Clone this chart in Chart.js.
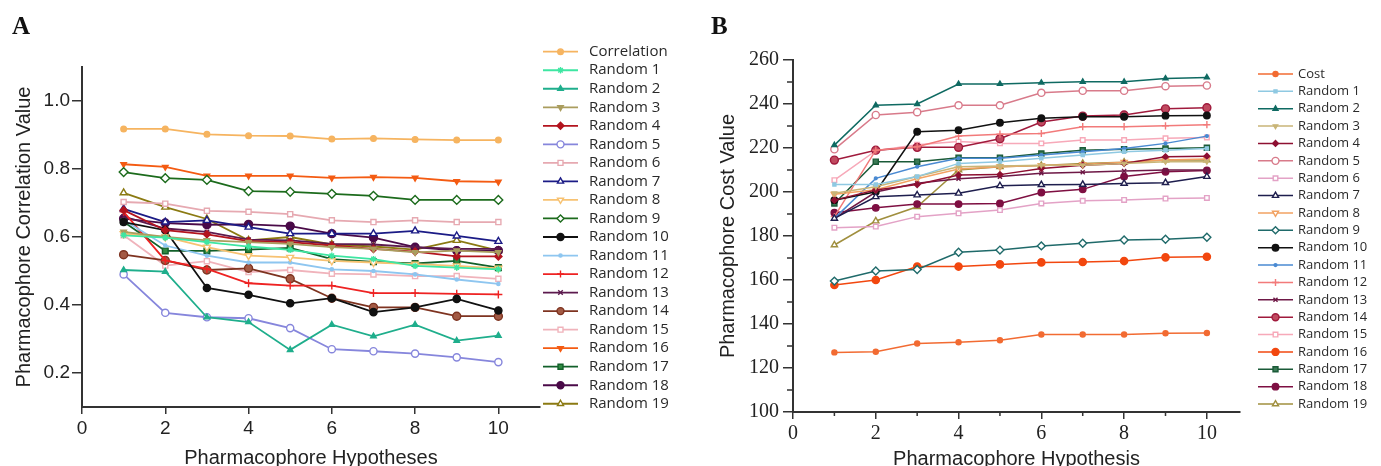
<!DOCTYPE html>
<html>
<head>
<meta charset="utf-8">
<script src="https://cdn.jsdelivr.net/npm/chart.js@4.4.0/dist/chart.umd.min.js"></script>
<style>
  html, body { margin: 0; padding: 0; background: #fff; }
  #wrap { position: relative; width: 1381px; height: 466px; overflow: hidden; }
  canvas { position: absolute; top: 0; }
  #chartA { left: 0; }
  #chartB { left: 690px; }
  .panel-tag { position: absolute; font: bold 25px "Liberation Serif", "Times New Roman", serif; color: #111; }
</style>
</head>
<body>
<div id="wrap">
  <canvas id="chartA" width="690" height="466"></canvas>
  <canvas id="chartB" width="691" height="466"></canvas>
  <div class="panel-tag" style="left:12px;top:12px">A</div>
  <div class="panel-tag" style="left:711px;top:12px">B</div>
</div>
<script>
// ---- data ----
const hypotheses = [1, 2, 3, 4, 5, 6, 7, 8, 9, 10];
const randomNames = ['Random 1', 'Random 2', 'Random 3', 'Random 4', 'Random 5', 'Random 6', 'Random 7',
    'Random 8', 'Random 9', 'Random 10', 'Random 11', 'Random 12', 'Random 13', 'Random 14', 'Random 15',
    'Random 16', 'Random 17', 'Random 18', 'Random 19'];

// Panel A - correlation
const corrXTicks = [0, 2, 4, 6, 8, 10];
const corrYTicks = [0.2, 0.4, 0.6, 0.8, 1.0];
const corrLabels = ['Correlation', ...randomNames];
const corrMain = [0.918, 0.918, 0.902, 0.898, 0.897, 0.888, 0.890, 0.887, 0.885, 0.885];
const corrR1  = [0.605, 0.598, 0.585, 0.572, 0.562, 0.545, 0.535, 0.515, 0.510, 0.505];
const corrR2  = [0.503, 0.498, 0.364, 0.350, 0.268, 0.342, 0.308, 0.342, 0.295, 0.310];
const corrR3  = [0.615, 0.600, 0.590, 0.585, 0.580, 0.570, 0.565, 0.555, 0.560, 0.555];
const corrR4  = [0.679, 0.620, 0.608, 0.588, 0.585, 0.575, 0.565, 0.557, 0.543, 0.543];
const corrR5  = [0.490, 0.377, 0.364, 0.361, 0.332, 0.270, 0.264, 0.257, 0.246, 0.232];
const corrR6  = [0.703, 0.698, 0.677, 0.674, 0.667, 0.649, 0.644, 0.649, 0.644, 0.644];
const corrR7  = [0.683, 0.644, 0.649, 0.629, 0.610, 0.610, 0.610, 0.618, 0.603, 0.587];
const corrR8  = [0.610, 0.600, 0.570, 0.545, 0.540, 0.530, 0.525, 0.520, 0.515, 0.508];
const corrR9  = [0.791, 0.773, 0.768, 0.735, 0.733, 0.727, 0.721, 0.709, 0.709, 0.709];
const corrR10 = [0.644, 0.620, 0.450, 0.430, 0.405, 0.420, 0.379, 0.393, 0.418, 0.384];
const corrR11 = [0.650, 0.575, 0.545, 0.525, 0.525, 0.505, 0.500, 0.490, 0.475, 0.462];
const corrR12 = [0.674, 0.531, 0.506, 0.464, 0.457, 0.457, 0.435, 0.435, 0.433, 0.431];
const corrR13 = [0.660, 0.625, 0.615, 0.592, 0.590, 0.580, 0.578, 0.570, 0.565, 0.565];
const corrR14 = [0.548, 0.531, 0.503, 0.508, 0.477, 0.420, 0.393, 0.393, 0.367, 0.367];
const corrR15 = [0.605, 0.516, 0.529, 0.497, 0.503, 0.492, 0.490, 0.485, 0.485, 0.477];
const corrR16 = [0.814, 0.806, 0.780, 0.780, 0.780, 0.774, 0.776, 0.774, 0.764, 0.762];
const corrR17 = [0.645, 0.559, 0.559, 0.563, 0.568, 0.535, 0.527, 0.522, 0.530, 0.510];
const corrR18 = [0.654, 0.641, 0.636, 0.637, 0.632, 0.610, 0.598, 0.570, 0.560, 0.560];
const corrR19 = [0.730, 0.688, 0.653, 0.590, 0.600, 0.578, 0.572, 0.563, 0.590, 0.560];

// Panel B - cost
const costXTicks = [0, 2, 4, 6, 8, 10];
const costXMinor = [1, 3, 5, 7, 9];
const costYTicks = [100, 120, 140, 160, 180, 200, 220, 240, 260];
const costYMinor = [110, 130, 150, 170, 190, 210, 230, 250];
const costLabels = ['Cost', ...randomNames];
const costMain = [127.1, 127.4, 131.1, 131.7, 132.6, 135.2, 135.2, 135.2, 135.8, 135.9];
const costR1  = [203.4, 203.4, 207.0, 213.0, 213.8, 215.3, 216.8, 218.3, 219.0, 219.8];
const costR2  = [221.3, 239.4, 240.0, 249.1, 249.1, 249.7, 250.1, 250.1, 251.6, 252.1];
const costR3  = [199.4, 202.4, 207.0, 211.5, 211.8, 212.2, 212.2, 213.0, 213.8, 213.8];
const costR4  = [196.3, 200.9, 203.4, 207.7, 207.9, 210.7, 212.2, 213.0, 216.0, 216.3];
const costR5  = [219.4, 235.0, 236.3, 239.4, 239.4, 245.1, 246.0, 246.0, 248.1, 248.4];
const costR6  = [183.8, 184.3, 188.8, 190.3, 191.8, 194.8, 196.0, 196.4, 197.0, 197.3];
const costR7  = [188.0, 197.8, 198.6, 199.4, 202.8, 203.3, 203.4, 203.9, 204.2, 207.0];
const costR8  = [199.0, 201.0, 206.0, 210.5, 211.5, 212.0, 212.5, 213.5, 214.5, 215.0];
const costR9  = [159.5, 164.1, 164.8, 172.6, 173.6, 175.5, 176.7, 178.2, 178.5, 179.4];
const costR10 = [196.3, 200.1, 227.4, 228.1, 231.5, 233.5, 234.2, 234.2, 234.7, 234.8];
const costR11 = [188.0, 206.2, 211.5, 215.3, 215.3, 216.8, 218.3, 219.8, 222.1, 225.4];
const costR12 = [188.8, 219.0, 220.6, 225.4, 226.3, 226.6, 229.7, 229.7, 230.1, 230.6];
const costR13 = [188.0, 200.0, 204.0, 206.0, 207.0, 208.5, 209.0, 209.5, 210.0, 210.0];
const costR14 = [214.5, 219.0, 220.3, 220.3, 224.2, 231.8, 234.5, 235.0, 237.8, 238.3];
const costR15 = [205.4, 218.8, 221.5, 222.9, 222.1, 222.1, 223.6, 223.6, 224.4, 224.8];
const costR16 = [157.7, 160.0, 166.1, 166.1, 167.1, 168.0, 168.2, 168.6, 170.3, 170.6];
const costR17 = [194.8, 213.8, 213.8, 215.6, 215.6, 217.5, 219.0, 219.4, 219.8, 220.1];
const costR18 = [190.6, 192.8, 194.5, 194.5, 194.8, 199.8, 201.2, 207.0, 209.2, 209.8];
const costR19 = [175.9, 186.8, 193.3, 210.0, 211.5, 212.0, 213.0, 213.5, 214.5, 214.5];

const corrSeries = [corrMain, corrR1, corrR2, corrR3, corrR4, corrR5, corrR6, corrR7, corrR8, corrR9,
    corrR10, corrR11, corrR12, corrR13, corrR14, corrR15, corrR16, corrR17, corrR18, corrR19];
const costSeries = [costMain, costR1, costR2, costR3, costR4, costR5, costR6, costR7, costR8, costR9,
    costR10, costR11, costR12, costR13, costR14, costR15, costR16, costR17, costR18, costR19];

// ---- styles ----
const corrStyles = [
    { color: '#f6b460', marker: 'circle', r: 3.5 },
    { color: '#3ee6a2', marker: 'star', r: 4 },
    { color: '#1fae8c', marker: 'triangle', r: 4 },
    { color: '#aa9d5e', marker: 'triangle', rot: 180, r: 4 },
    { color: '#b3141e', marker: 'rectRot', r: 4.5 },
    { color: '#8686dc', marker: 'circle', hollow: true, r: 4.5 },
    { color: '#e6a9b1', marker: 'rect', hollow: true, r: 4.5 },
    { color: '#1b1b86', marker: 'triangle', hollow: true, r: 5 },
    { color: '#f7c272', marker: 'triangle', rot: 180, hollow: true, r: 5 },
    { color: '#1c6b1c', marker: 'rectRot', hollow: true, r: 5.5 },
    { color: '#111111', marker: 'circle', r: 4.5 },
    { color: '#8ec6f0', marker: 'circle', r: 2 },
    { color: '#ee2222', marker: 'cross', r: 5 },
    { color: '#5c1a4e', marker: 'crossRot', r: 4 },
    { color: '#7e3320', face: '#a35a44', marker: 'circle', r: 5 },
    { color: '#f0b3bb', marker: 'rect', hollow: true, r: 4.5 },
    { color: '#f45b12', marker: 'triangle', rot: 180, r: 4 },
    { color: '#12602a', face: '#2e8a40', marker: 'rect', r: 5 },
    { color: '#4a0a48', marker: 'circle', r: 5 },
    { color: '#8b7a12', marker: 'triangle', hollow: true, r: 5 }
];
const costStyles = [
    { color: '#f26b32', marker: 'circle', r: 3.5 },
    { color: '#8fc9e2', marker: 'rect', r: 3 },
    { color: '#0f6a62', marker: 'triangle', r: 4 },
    { color: '#c9b577', marker: 'triangle', rot: 180, r: 3.5 },
    { color: '#8e1032', marker: 'rectRot', r: 4 },
    { color: '#d87a8a', marker: 'circle', hollow: true, r: 5 },
    { color: '#e3a2c6', marker: 'rect', hollow: true, r: 4.5 },
    { color: '#1e1e4e', marker: 'triangle', hollow: true, r: 5 },
    { color: '#f2a262', marker: 'triangle', rot: 180, hollow: true, r: 5 },
    { color: '#1f6a6a', marker: 'rectRot', hollow: true, r: 5.5 },
    { color: '#111111', marker: 'circle', r: 4.5 },
    { color: '#4a8ad2', marker: 'circle', r: 2 },
    { color: '#f27a7a', marker: 'cross', r: 5 },
    { color: '#6e1846', marker: 'crossRot', r: 4 },
    { color: '#a01a3c', face: '#c04a60', marker: 'circle', r: 5.5 },
    { color: '#f7a9b9', marker: 'rect', hollow: true, r: 4.5 },
    { color: '#f2470f', marker: 'circle', r: 5 },
    { color: '#1a5a38', face: '#3a7a55', marker: 'rect', r: 5 },
    { color: '#7e0f42', marker: 'circle', r: 4.5 },
    { color: '#a08f3e', marker: 'triangle', hollow: true, r: 5 }
];

const SANS = '"Liberation Sans", Arial, sans-serif';
const SERIF = '"Liberation Serif", "Times New Roman", serif';
const AXIS = '#333';

function makeDatasets(labels, series, styles, lineWidth, markerScale) {
    return series.map((vals, i) => {
        const s = styles[i];
        return {
            label: labels[i],
            data: vals.map((v, j) => ({ x: hypotheses[j], y: v })),
            borderColor: s.color,
            borderWidth: lineWidth,
            pointStyle: s.marker,
            pointRotation: s.rot || 0,
            pointRadius: s.r * markerScale,
            pointBorderColor: s.color,
            pointBackgroundColor: s.hollow ? '#ffffff' : (s.face || s.color),
            pointBorderWidth: 1.4,
            tension: 0
        };
    });
}

// legend: short line + marker + label, one row per dataset
const lineLegend = {
    id: 'lineLegend',
    afterDraw(chart, args, opts) {
        const ctx = chart.ctx;
        ctx.save();
        ctx.font = opts.font;
        ctx.textBaseline = 'middle';
        chart.data.datasets.forEach((ds, i) => {
            const y = opts.top + i * opts.spacing;
            ctx.strokeStyle = ds.borderColor;
            ctx.lineWidth = ds.borderWidth;
            ctx.beginPath();
            ctx.moveTo(opts.x, y);
            ctx.lineTo(opts.x + opts.len, y);
            ctx.stroke();
            ctx.fillStyle = ds.pointBackgroundColor;
            ctx.strokeStyle = ds.pointBorderColor;
            ctx.lineWidth = ds.pointBorderWidth;
            Chart.helpers.drawPoint(ctx, {
                pointStyle: ds.pointStyle,
                rotation: ds.pointRotation,
                radius: Math.min(ds.pointRadius, 3.5),
                borderWidth: ds.pointBorderWidth
            }, opts.x + opts.len / 2, y);
            ctx.fillStyle = '#2a2a2a';
            ctx.fillText(ds.label, opts.textX, y);
        });
        ctx.restore();
    }
};

// short unlabeled ticks between the labelled ones
const minorTicks = {
    id: 'minorTicks',
    afterDraw(chart, args, opts) {
        if (!opts.y && !opts.x) return;
        const ctx = chart.ctx;
        const { x: xs, y: ys } = chart.scales;
        ctx.save();
        ctx.strokeStyle = AXIS;
        ctx.lineWidth = 1.5;
        ctx.beginPath();
        (opts.y || []).forEach(v => {
            const py = ys.getPixelForValue(v);
            ctx.moveTo(chart.chartArea.left - 6, py);
            ctx.lineTo(chart.chartArea.left, py);
        });
        (opts.x || []).forEach(v => {
            const px = xs.getPixelForValue(v);
            ctx.moveTo(px, chart.chartArea.bottom);
            ctx.lineTo(px, chart.chartArea.bottom + 4);
        });
        ctx.stroke();
        ctx.restore();
    }
};

function axis(cfg) {
    return {
        type: 'linear',
        min: cfg.min,
        max: cfg.max,
        afterBuildTicks: s => { s.ticks = cfg.ticks.map(v => ({ value: v })); },
        afterFit: s => { if (cfg.width) s.width = cfg.width; if (cfg.height) s.height = cfg.height; },
        grid: { drawOnChartArea: false, drawTicks: true, tickLength: cfg.tickLength, color: AXIS, lineWidth: 1.5 },
        border: { display: true, color: AXIS, width: 2 },
        ticks: {
            color: '#222',
            font: { family: cfg.tickFont, size: cfg.tickSize },
            padding: cfg.tickPad,
            maxRotation: 0,
            callback: cfg.format || (v => String(v))
        },
        title: {
            display: true,
            text: cfg.title,
            color: '#222',
            font: { family: SANS, size: 20 },
            padding: cfg.titlePad
        }
    };
}

function baseOptions(pad) {
    return {
        responsive: false,
        animation: false,
        devicePixelRatio: 1,
        layout: { padding: pad },
        plugins: { legend: { display: false }, tooltip: { enabled: false } }
    };
}

const optsA = baseOptions({ left: 0, top: 67, right: 150, bottom: 0 });
optsA.scales = {
    x: axis({ min: 0, max: 11, ticks: corrXTicks, height: 59, tickLength: 7, tickPad: 3,
        tickFont: SANS, tickSize: 19, title: 'Pharmacophore Hypotheses', titlePad: { top: 0, bottom: -4 } }),
    y: axis({ min: 0.1, max: 1.1, ticks: corrYTicks, width: 82, tickLength: 10, tickPad: 2,
        tickFont: SANS, tickSize: 19, format: v => v.toFixed(1),
        title: 'Pharmacophore Correlation Value', titlePad: { top: 12, bottom: 0 } })
};
optsA.plugins.lineLegend = { x: 543, len: 35, textX: 589, top: 51.7, spacing: 18.53, font: '15px "Open Sans", sans-serif' };
optsA.plugins.minorTicks = {};

new Chart(document.getElementById('chartA'), {
    type: 'line',
    data: { datasets: makeDatasets(corrLabels, corrSeries, corrStyles, 1.8, 0.8) },
    options: optsA,
    plugins: [lineLegend, minorTicks]
});

const optsB = baseOptions({ left: 0, top: 60, right: 141, bottom: 0 });
optsB.scales = {
    x: axis({ min: 0, max: 10.8, ticks: costXTicks, height: 54, tickLength: 7, tickPad: 3,
        tickFont: SERIF, tickSize: 20, title: 'Pharmacophore Hypothesis', titlePad: { top: 0, bottom: -5 } }),
    y: axis({ min: 100, max: 260, ticks: costYTicks, width: 103, tickLength: 10, tickPad: 4,
        tickFont: SERIF, tickSize: 20, title: 'Pharmacophore Cost Value', titlePad: { top: 26, bottom: 0 } })
};
optsB.plugins.lineLegend = { x: 568, len: 35, textX: 608, top: 74, spacing: 17.37, font: '13px "Open Sans", sans-serif' };
optsB.plugins.minorTicks = { x: costXMinor, y: costYMinor };

new Chart(document.getElementById('chartB'), {
    type: 'line',
    data: { datasets: makeDatasets(costLabels, costSeries, costStyles, 1.5, 0.72) },
    options: optsB,
    plugins: [lineLegend, minorTicks]
});
</script>
</body>
</html>
